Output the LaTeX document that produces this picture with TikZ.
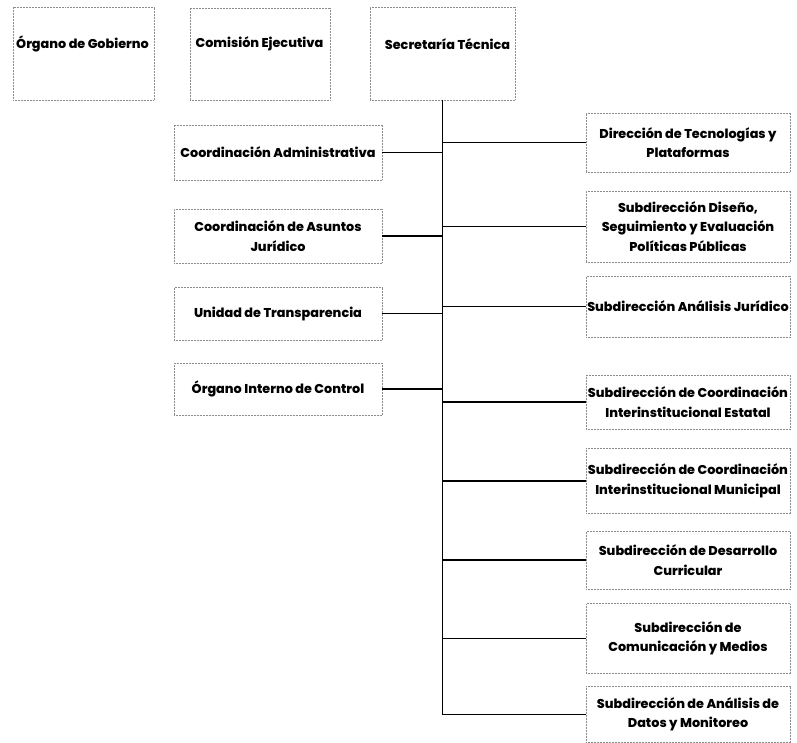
\documentclass[tikz,border=0pt]{standalone}
\usepackage{fontspec}
\setmainfont{Poppins}[BoldFont={Poppins ExtraBold}]
\begin{document}
\begin{tikzpicture}[x=1pt,y=-1pt,
  box/.style={draw=black!45,densely dotted,line width=0.5pt,rectangle,inner sep=0pt},
  lbl/.style={font=\fontsize{12.8}{19.5}\selectfont\bfseries,align=center,inner sep=0pt,text=black},
  conn/.style={draw=black,line width=1.1pt}]
\useasboundingbox (0,0) rectangle (797,743);
% top row
\node[box,minimum width=141pt,minimum height=93pt] (og) at (83.5,53.5) {};
\node[lbl] (ogt) at (82.5,44) {Órgano de Gobierno};
\node[box,minimum width=140pt,minimum height=92pt] (ce) at (260,54) {};
\node[lbl] (cet) at (259.5,44) {Comisión Ejecutiva};
\node[box,minimum width=145pt,minimum height=93pt] (st) at (442.5,53.5) {};
\node[lbl] (stt) at (447.5,44) {Secretaría Técnica};
% left boxes
\node[box,lbl,minimum width=208pt,minimum height=55pt] (ca) at (278,152.5) {Coordinación Administrativa};
\node[box,lbl,minimum width=208pt,minimum height=54pt] (cj) at (278,236) {Coordinación de Asuntos\\Jurídico};
\node[box,lbl,minimum width=208pt,minimum height=53pt] (ut) at (278,313.5) {Unidad de Transparencia};
\node[box,lbl,minimum width=208pt,minimum height=52pt] (oic) at (278,389) {Órgano Interno de Control};
% right boxes
\node[box,lbl,minimum width=204pt,minimum height=59pt] (dt) at (688,142.5) {Dirección de Tecnologías y\\Plataformas};
\node[box,lbl,minimum width=204pt,minimum height=71pt] (sd) at (688,226.5) {Subdirección Diseño,\\Seguimiento y Evaluación\\Políticas Públicas};
\node[box,lbl,minimum width=204pt,minimum height=61pt] (sa) at (688,306.5) {Subdirección Análisis Jurídico};
\node[box,lbl,minimum width=204pt,minimum height=54pt] (se) at (688,402) {Subdirección de Coordinación\\Interinstitucional Estatal};
\node[box,lbl,minimum width=204pt,minimum height=65pt] (sm) at (688,481) {Subdirección de Coordinación\\Interinstitucional Municipal};
\node[box,lbl,minimum width=204pt,minimum height=58pt] (sc) at (688,560) {Subdirección de Desarrollo\\Curricular};
\node[box,lbl,minimum width=204pt,minimum height=70pt] (sco) at (688,638.5) {Subdirección de\\Comunicación y Medios};
\node[box,lbl,minimum width=204pt,minimum height=56pt] (sad) at (688,714.5) {Subdirección de Análisis de\\Datos y Monitoreo};
% trunk
\draw[conn] (st.south) -- (st.south |- sad.west);
% left connectors
\foreach \n in {ca,cj,ut,oic}{\draw[conn] (\n.east) -- (\n.east -| st.south);}
% right connectors
\foreach \n in {dt,sd,sa,se,sm,sc,sco,sad}{\draw[conn] (st.south |- \n.west) -- (\n.west);}
\end{tikzpicture}
\end{document}
